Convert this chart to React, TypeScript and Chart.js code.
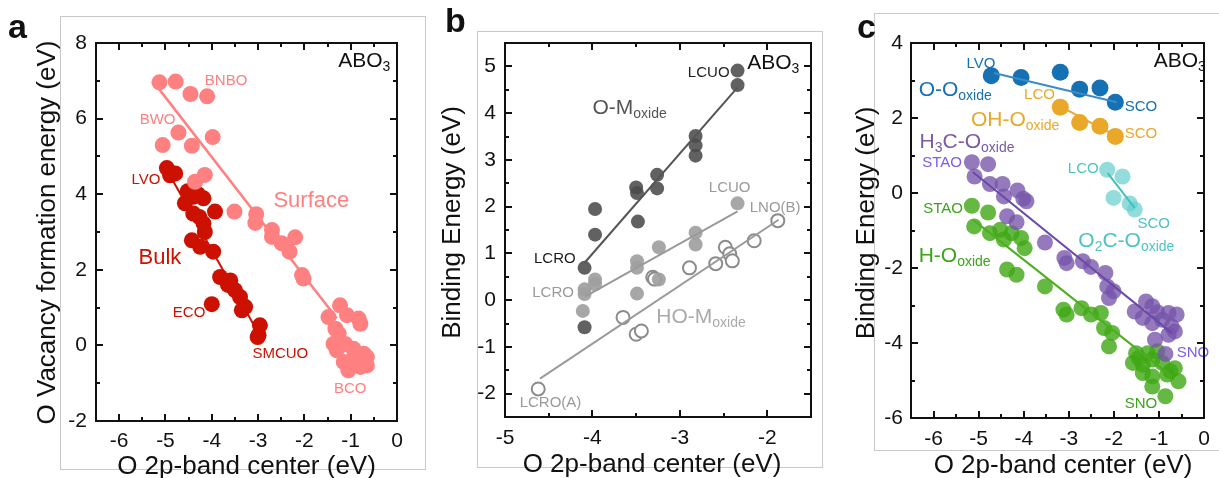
import React, { useEffect, useRef, useState } from 'react';
import { Chart, registerables } from 'chart.js';
Chart.register(...registerables);

const FONT = '"Liberation Sans", Arial, Helvetica, sans-serif';

// ---------- Panel a ----------
const aSurfaceX = [-5.13, -4.78, -4.46, -4.10, -5.06, -4.72, -4.43, -3.98, -4.36, -4.15, -3.51, -3.04, -3.06, -2.70, -2.70, -2.49, -2.32, -2.20, -2.05, -2.02, -1.48, -1.23, -1.08, -0.83, -0.79, -1.33, -1.30, -1.12, -0.94, -1.15, -1.05, -0.72, -0.65, -0.65, -0.94, -1.37, -1.26, -0.79];
const aSurfaceY = [6.96, 6.98, 6.65, 6.59, 5.30, 5.63, 5.28, 5.51, 4.33, 4.51, 3.54, 3.47, 3.24, 3.05, 2.87, 2.70, 2.48, 2.86, 1.86, 1.77, 0.75, 1.06, 0.80, 0.71, 0.57, 0.44, -0.13, 0.04, -0.09, -0.44, -0.66, -0.22, -0.31, -0.53, -0.35, 0.04, 0.31, -0.57];
const aBulkX = [-4.97, -4.79, -4.90, -4.58, -4.52, -4.40, -4.18, -4.30, -3.93, -4.40, -4.27, -4.18, -4.15, -4.43, -4.25, -3.97, -3.82, -3.60, -3.65, -3.50, -3.39, -3.28, -3.35, -4.00, -2.96, -2.99, -3.01];
const aBulkY = [4.69, 4.55, 4.50, 3.76, 4.08, 3.93, 3.89, 4.00, 3.54, 3.49, 3.40, 3.23, 3.00, 2.78, 2.61, 2.48, 1.81, 1.72, 1.60, 1.46, 1.28, 1.02, 0.93, 1.09, 0.53, 0.27, 0.22];
const aSurfaceFitX = [-5.15, -1.3];
const aSurfaceFitY = [6.8, 0.72];
const aBulkFitX = [-4.95, -3.05];
const aBulkFitY = [4.6, 0.45];
const aXTicks = [-6, -5, -4, -3, -2, -1, 0];
const aXMinor = [-5.5, -4.5, -3.5, -2.5, -1.5, -0.5];
const aYTicks = [-2, 0, 2, 4, 6, 8];
const aYMinor = [-1, 1, 3, 5, 7];

// ---------- Panel b ----------
const bOMX = [-2.34, -2.34, -2.82, -2.82, -2.82, -3.26, -3.26, -3.50, -3.49, -3.48, -3.97, -3.97, -4.09, -4.09];
const bOMY = [4.91, 4.60, 3.51, 3.31, 3.09, 2.68, 2.39, 2.41, 2.29, 1.68, 1.95, 1.40, 0.69, -0.58];
const bMidX = [-2.34, -2.82, -2.82, -3.24, -3.24, -3.49, -3.49, -3.49, -3.97, -3.97, -4.09, -4.09, -4.11];
const bMidY = [2.07, 1.44, 1.19, 1.13, 0.44, 0.83, 0.69, 0.14, 0.44, 0.34, 0.23, 0.13, -0.23];
const bHOX = [-4.62, -3.65, -3.50, -3.44, -3.31, -3.29, -2.89, -2.59, -2.48, -2.43, -2.40, -2.15, -1.88];
const bHOY = [-1.90, -0.37, -0.73, -0.66, 0.49, 0.45, 0.69, 0.78, 1.13, 0.99, 0.84, 1.27, 1.70];
const bOMFitX = [-4.09, -2.34];
const bOMFitY = [0.8, 4.55];
const bMidFitX = [-4.08, -2.34];
const bMidFitY = [0.08, 1.9];
const bHOFitX = [-4.6, -1.87];
const bHOFitY = [-1.68, 1.72];
const bXTicks = [-5, -4, -3, -2];
const bXMinor = [-4.5, -3.5, -2.5];
const bYTicks = [-2, -1, 0, 1, 2, 3, 4, 5];
const bYMinor = [-1.5, -0.5, 0.5, 1.5, 2.5, 3.5, 4.5];

// ---------- Panel c ----------
const cOOX = [-4.72, -4.06, -3.19, -2.76, -2.31, -1.97];
const cOOY = [3.13, 3.08, 3.22, 2.77, 2.80, 2.42];
const cOHX = [-3.19, -2.76, -2.31, -1.97];
const cOHY = [2.29, 1.88, 1.78, 1.51];
const cO2CX = [-2.15, -1.81, -2.01, -1.65, -1.54];
const cO2CY = [0.62, 0.44, -0.13, -0.28, -0.44];
const cH3CX = [-5.15, -4.79, -5.09, -4.75, -4.47, -4.44, -4.14, -4.01, -3.94, -4.37, -4.16, -3.53, -3.10, -3.05, -2.69, -2.51, -2.19, -2.15, -2.01, -2.11, -1.54, -1.29, -1.15, -1.04, -0.79, -0.61, -1.36, -1.15, -0.93, -0.72, -0.65, -0.79, -1.09, -0.86];
const cH3CY = [0.82, 0.77, 0.44, 0.24, 0.24, -0.09, 0.07, -0.15, -0.22, -0.62, -0.78, -1.32, -1.73, -1.87, -1.82, -1.97, -2.13, -2.49, -2.62, -2.80, -3.16, -2.89, -3.02, -3.18, -3.20, -3.24, -3.33, -3.47, -3.38, -3.56, -3.69, -3.78, -3.91, -4.29];
const cHX = [-5.15, -4.79, -5.10, -4.75, -4.52, -4.44, -4.27, -4.06, -3.98, -4.37, -4.16, -3.53, -3.12, -3.05, -2.72, -2.51, -2.29, -2.22, -2.04, -2.11, -1.51, -1.25, -1.04, -1.58, -1.36, -1.15, -0.93, -0.65, -1.36, -1.15, -0.82, -0.57, -1.15, -0.86, -1.45, -0.75];
const cHY = [-0.34, -0.52, -0.89, -1.07, -0.98, -1.24, -1.07, -1.20, -1.47, -2.04, -2.18, -2.49, -3.11, -3.24, -3.07, -3.24, -3.20, -3.60, -3.73, -4.09, -4.27, -4.27, -4.22, -4.53, -4.58, -4.44, -4.53, -4.67, -4.80, -4.89, -4.84, -5.02, -5.16, -5.42, -4.40, -4.75];
const cOOFitX = [-4.66, -1.94];
const cOOFitY = [3.2, 2.42];
const cOHFitX = [-3.19, -1.97];
const cOHFitY = [2.31, 1.53];
const cO2CFitX = [-2.14, -1.54];
const cO2CFitY = [0.53, -0.4];
const cH3CFitX = [-5.13, -0.72];
const cH3CFitY = [0.56, -3.73];
const cHFitX = [-5.13, -0.72];
const cHFitY = [-0.71, -4.89];
const cXTicks = [-6, -5, -4, -3, -2, -1, 0];
const cXMinor = [-5.5, -4.5, -3.5, -2.5, -1.5, -0.5];
const cYTicks = [-6, -4, -2, 0, 2, 4];
const cYMinor = [-5, -3, -1, 1, 3];

// ---------- helpers ----------
const pts = (xs: number[], ys: number[]) => xs.map((x, i) => ({ x, y: ys[i] }));
const fit = (xs: number[], ys: number[], color: string, w: number) => ({
  data: pts(xs, ys), showLine: true, borderColor: color, borderWidth: w,
  pointRadius: 0, pointHoverRadius: 0, fill: false,
});
const dots = (xs: number[], ys: number[], color: string, r: number) => ({
  data: pts(xs, ys), showLine: false, pointBackgroundColor: color, pointBorderColor: color,
  pointBorderWidth: 0, pointRadius: r, pointHoverRadius: r,
});
const rings = (xs: number[], ys: number[], color: string, r: number) => ({
  data: pts(xs, ys), showLine: false, pointBackgroundColor: '#ffffff', pointBorderColor: color,
  pointBorderWidth: 2, pointRadius: r, pointHoverRadius: r,
});

type Seg = [string, number, boolean];
type Label = { segs: Seg[]; x: number; y: number; c: string; align: 'left' | 'center' };
const simple = (t: string, x: number, y: number, c: string, s = 15): Label => ({ segs: [[t, s, false]], x, y, c, align: 'center' });
const rich = (segs: Seg[], x: number, y: number, c: string): Label => ({ segs, x, y, c, align: 'left' });
const abo = (x: number, y: number): Label => rich([['ABO', 21, false], ['3', 14, true]], x, y, '#111');

const PINK = '#ff8080';
const RED = '#cc1100';
const BLUE = '#1670b4';
const ORANGE = '#e9a82a';

const panelA = {
  offsetX: 0, width: 430,
  pad: { left: 20, right: 33, top: 43, bottom: 2 }, yAxisW: 76, xAxisH: 55,
  xMin: -6.5, xMax: 0, yMin: -2, yMax: 8,
  xTicks: aXTicks, yTicks: aYTicks, xMinor: aXMinor, yMinor: aYMinor, xPad: 8, yPad: 9,
  frame: [60, 16, 425, 469],
  letter: { t: 'a', x: 8, y: 38 },
  xTitle: { t: 'O 2p-band center (eV)', x: 246.5, y: 467 },
  yTitle: { t: 'O Vacancy formation energy (eV)', x: 48, y: 232.5 },
  datasets: [
    fit(aSurfaceFitX, aSurfaceFitY, PINK, 2.5),
    dots(aSurfaceX, aSurfaceY, PINK, 8),
    fit(aBulkFitX, aBulkFitY, RED, 2),
    dots(aBulkX, aBulkY, RED, 8),
  ],
  labels: [
    simple('BNBO', -3.69, 7.03, PINK),
    simple('BWO', -5.17, 5.99, PINK),
    simple('LVO', -5.42, 4.40, RED),
    simple('Surface', -1.85, 3.87, PINK, 22),
    simple('Bulk', -5.12, 2.36, RED, 22),
    simple('ECO', -4.49, 0.90, RED),
    simple('SMCUO', -2.52, -0.18, RED),
    simple('BCO', -1.01, -1.11, PINK),
    abo(-1.27, 7.56),
  ] as Label[],
};

const panelB = {
  offsetX: 420, width: 410,
  pad: { left: 20, right: 19, top: 43, bottom: 2 }, yAxisW: 65, xAxisH: 59,
  xMin: -5, xMax: -1.5, yMin: -2.5, yMax: 5.5,
  xTicks: bXTicks, yTicks: bYTicks, xMinor: bXMinor, yMinor: bYMinor, xPad: 9, yPad: 9,
  frame: [477, 31, 822, 467],
  letter: { t: 'b', x: 445, y: 32 },
  xTitle: { t: 'O 2p-band center (eV)', x: 652, y: 465 },
  yTitle: { t: 'Binding Energy (eV)', x: 453, y: 222.5 },
  datasets: [
    fit(bOMFitX, bOMFitY, '#555555', 2),
    fit(bMidFitX, bMidFitY, '#9a9a9a', 2),
    fit(bHOFitX, bHOFitY, '#9a9a9a', 2),
    dots(bOMX, bOMY, 'rgba(75,75,75,0.88)', 7),
    dots(bMidX, bMidY, 'rgba(160,160,160,0.92)', 7),
    rings(bHOX, bHOY, '#8c8c8c', 6.5),
  ],
  labels: [
    simple('LCUO', -2.67, 4.88, '#222'),
    rich([['O-M', 21, false], ['oxide', 14, true]], -4.0, 4.15, '#555'),
    simple('LCRO', -4.43, 0.90, '#1a1a1a'),
    simple('LCUO', -2.43, 2.43, '#9a9a9a'),
    simple('LNO(B)', -1.91, 2.0, '#9a9a9a'),
    simple('LCRO', -4.45, 0.18, '#9a9a9a'),
    rich([['HO-M', 21, false], ['oxide', 14, true]], -3.27, -0.33, '#aaaaaa'),
    simple('LCRO(A)', -4.48, -2.18, '#9a9a9a'),
    abo(-2.23, 5.11),
  ] as Label[],
};

const panelC = {
  offsetX: 830, width: 389,
  pad: { left: 20, right: 8, top: 43, bottom: 2 }, yAxisW: 61, xAxisH: 58,
  xMin: -6.5, xMax: 0, yMin: -6, yMax: 4,
  xTicks: cXTicks, yTicks: cYTicks, xMinor: cXMinor, yMinor: cYMinor, xPad: 9, yPad: 8,
  frame: [874, 13, 1240, 450],
  letter: { t: 'c', x: 857, y: 38 },
  xTitle: { t: 'O 2p-band center (eV)', x: 1063, y: 466 },
  yTitle: { t: 'Binding Energy (eV)', x: 867, y: 223 },
  datasets: [
    fit(cOOFitX, cOOFitY, '#3a8cc8', 2),
    fit(cOHFitX, cOHFitY, ORANGE, 2),
    fit(cO2CFitX, cO2CFitY, '#3cc0c0', 2),
    fit(cH3CFitX, cH3CFitY, '#6a4aa8', 2),
    fit(cHFitX, cHFitY, '#4cb01e', 2),
    dots(cOOX, cOOY, BLUE, 8.5),
    dots(cOHX, cOHY, ORANGE, 8.5),
    dots(cO2CX, cO2CY, 'rgba(110,208,208,0.75)', 8),
    dots(cH3CX, cH3CY, 'rgba(118,84,170,0.78)', 8),
    dots(cHX, cHY, 'rgba(62,168,20,0.8)', 8),
  ],
  labels: [
    simple('LVO', -4.95, 3.49, BLUE),
    rich([['O-O', 21, false], ['oxide', 14, true]], -6.33, 2.8, BLUE),
    simple('SCO', -1.40, 2.32, BLUE),
    simple('LCO', -3.65, 2.64, ORANGE),
    rich([['OH-O', 21, false], ['oxide', 14, true]], -5.17, 2.0, ORANGE),
    simple('SCO', -1.40, 1.6, ORANGE),
    rich([['H', 21, false], ['3', 14, true], ['C-O', 21, false], ['oxide', 14, true]], -6.31, 1.41, '#7b5aa6'),
    simple('STAO', -5.81, 0.85, '#7c5cf0'),
    simple('LCO', -2.68, 0.67, '#4cc4c4'),
    simple('SCO', -1.12, -0.8, '#4cc4c4'),
    rich([['O', 21, false], ['2', 14, true], ['C-O', 21, false], ['oxide', 14, true]], -2.79, -1.25, '#4cc4c4'),
    simple('STAO', -5.79, -0.4, '#3ea31a'),
    rich([['H-O', 21, false], ['oxide', 14, true]], -6.33, -1.63, '#3ea31a'),
    simple('SNO', -0.25, -4.24, '#7c5cf0'),
    simple('SNO', -1.40, -5.6, '#3ea31a'),
    abo(-1.12, 3.55),
  ] as Label[],
};

type Panel = typeof panelA;
type Rect = { l: number; t: number; w: number; h: number };
const PANELS: Panel[] = [panelA, panelB, panelC];

function drawLabel(ctx: CanvasRenderingContext2D, lb: Label, px: number, py: number) {
  const main = lb.segs[0][1];
  const base = py + 0.36 * main;
  let total = 0;
  for (const [t, s] of lb.segs) { ctx.font = `${s}px ${FONT}`; total += ctx.measureText(t).width; }
  let cx = lb.align === 'center' ? px - total / 2 : px;
  ctx.fillStyle = lb.c;
  ctx.textAlign = 'left';
  ctx.textBaseline = 'alphabetic';
  for (const [t, s, sub] of lb.segs) {
    ctx.font = `${s}px ${FONT}`;
    ctx.fillText(t, cx, base + (sub ? 4 : 0));
    cx += ctx.measureText(t).width;
  }
}

// rectangles of the plot box and inward ticks, placed with the chart's own scales
function boxRects(chart: any, p: Panel): Rect[] {
  const xs = chart.scales.x, ys = chart.scales.y;
  const left = Math.round(xs.getPixelForValue(p.xMin));
  const right = Math.round(xs.getPixelForValue(p.xMax));
  const top = Math.round(ys.getPixelForValue(p.yMax));
  const bottom = Math.round(ys.getPixelForValue(p.yMin));
  const out: Rect[] = [
    { l: left - 1, t: top - 1, w: right - left + 2, h: 2 },
    { l: left - 1, t: bottom - 1, w: right - left + 2, h: 2 },
    { l: left - 1, t: top - 1, w: 2, h: bottom - top + 2 },
    { l: right - 1, t: top - 1, w: 2, h: bottom - top + 2 },
  ];
  const tickX = (v: number, len: number) => {
    const px = Math.round(xs.getPixelForValue(v));
    out.push({ l: px - 1, t: bottom - len, w: 2, h: len });
    out.push({ l: px - 1, t: top, w: 2, h: len });
  };
  const tickY = (v: number, len: number) => {
    const py = Math.round(ys.getPixelForValue(v));
    out.push({ l: left, t: py - 1, w: len, h: 2 });
    out.push({ l: right - len, t: py - 1, w: len, h: 2 });
  };
  p.xTicks.forEach((v) => tickX(v, 7));
  p.xMinor.forEach((v) => tickX(v, 4));
  p.yTicks.forEach((v) => tickY(v, 7));
  p.yMinor.forEach((v) => tickY(v, 4));
  return out;
}

function makeDeco(p: Panel) {
  return {
    id: 'panelDeco',
    beforeDatasetsDraw(chart: any) {
      const ctx = chart.ctx as CanvasRenderingContext2D;
      const [x0, y0, x1, y1] = p.frame;
      const l = x0 - p.offsetX, r = x1 - p.offsetX;
      ctx.save();
      ctx.fillStyle = '#c9c9c9';
      ctx.fillRect(l, y0, r - l, 1);
      ctx.fillRect(l, y1, r - l, 1);
      ctx.fillRect(l, y0, 1, y1 - y0);
      ctx.fillRect(r, y0, 1, y1 - y0 + 1);
      ctx.restore();
    },
    afterDraw(chart: any) {
      const ctx = chart.ctx as CanvasRenderingContext2D;
      const xs = chart.scales.x, ys = chart.scales.y;
      ctx.save();
      ctx.fillStyle = '#111111';
      for (const r of boxRects(chart, p)) ctx.fillRect(r.l, r.t, r.w, r.h);
      for (const lb of p.labels) {
        drawLabel(ctx, lb, xs.getPixelForValue(lb.x), ys.getPixelForValue(lb.y));
      }
      ctx.fillStyle = '#111';
      ctx.font = `26px ${FONT}`;
      ctx.textAlign = 'center';
      ctx.textBaseline = 'middle';
      ctx.fillText(p.xTitle.t, p.xTitle.x - p.offsetX, p.xTitle.y);
      ctx.save();
      ctx.translate(p.yTitle.x - p.offsetX, p.yTitle.y);
      ctx.rotate(-Math.PI / 2);
      ctx.fillText(p.yTitle.t, 0, 0);
      ctx.restore();
      ctx.font = `bold 34px ${FONT}`;
      ctx.textAlign = 'left';
      ctx.textBaseline = 'alphabetic';
      ctx.fillText(p.letter.t, p.letter.x - p.offsetX, p.letter.y);
      ctx.restore();
    },
  };
}

function makeChart(canvas: HTMLCanvasElement, p: Panel) {
  const tickFont = { family: FONT, size: 21 };
  return new Chart(canvas, {
    type: 'scatter',
    data: { datasets: p.datasets as any },
    options: {
      animation: false,
      responsive: false,
      devicePixelRatio: 1,
      layout: { padding: p.pad },
      plugins: { legend: { display: false }, tooltip: { enabled: false } },
      events: [],
      scales: {
        x: {
          type: 'linear', position: 'bottom', min: p.xMin, max: p.xMax,
          grid: { display: false, drawTicks: false },
          border: { display: false },
          ticks: { font: tickFont, color: '#111', padding: p.xPad, maxRotation: 0, autoSkip: false, callback: (v: any) => String(v) },
          afterBuildTicks: (s: any) => { s.ticks = p.xTicks.map((v) => ({ value: v })); },
          afterFit: (s: any) => { s.height = p.xAxisH; },
        },
        y: {
          type: 'linear', position: 'left', min: p.yMin, max: p.yMax,
          grid: { display: false, drawTicks: false },
          border: { display: false },
          ticks: { font: tickFont, color: '#111', padding: p.yPad, autoSkip: false, callback: (v: any) => String(v) },
          afterBuildTicks: (s: any) => { s.ticks = p.yTicks.map((v) => ({ value: v })); },
          afterFit: (s: any) => { s.width = p.yAxisW; },
        },
      },
    } as any,
    plugins: [makeDeco(p)],
  });
}

export default function App() {
  const ra = useRef<HTMLCanvasElement>(null);
  const rb = useRef<HTMLCanvasElement>(null);
  const rc = useRef<HTMLCanvasElement>(null);
  const [rects, setRects] = useState<Rect[]>([]);
  useEffect(() => {
    const canvases = [ra.current!, rb.current!, rc.current!];
    const charts = canvases.map((cv, i) => makeChart(cv, PANELS[i]));
    const all: Rect[] = [];
    charts.forEach((c, i) => {
      const p = PANELS[i];
      for (const r of boxRects(c, p)) all.push({ ...r, l: r.l + p.offsetX });
    });
    setRects(all);
    return () => charts.forEach((c) => c.destroy());
  }, []);
  const cs = (left: number): React.CSSProperties => ({ position: 'absolute', left, top: 0 });
  return (
    <div style={{ position: 'absolute', left: 0, top: 0, width: 1219, height: 478, overflow: 'hidden', background: '#fff' }}>
      <canvas ref={ra} width={panelA.width} height={478} style={cs(panelA.offsetX)} />
      <canvas ref={rb} width={panelB.width} height={478} style={cs(panelB.offsetX)} />
      <canvas ref={rc} width={panelC.width} height={478} style={cs(panelC.offsetX)} />
      {rects.map((r, i) => (
        <div key={i} style={{ position: 'absolute', left: r.l, top: r.t, width: r.w, height: r.h, background: '#111' }} />
      ))}
    </div>
  );
}
